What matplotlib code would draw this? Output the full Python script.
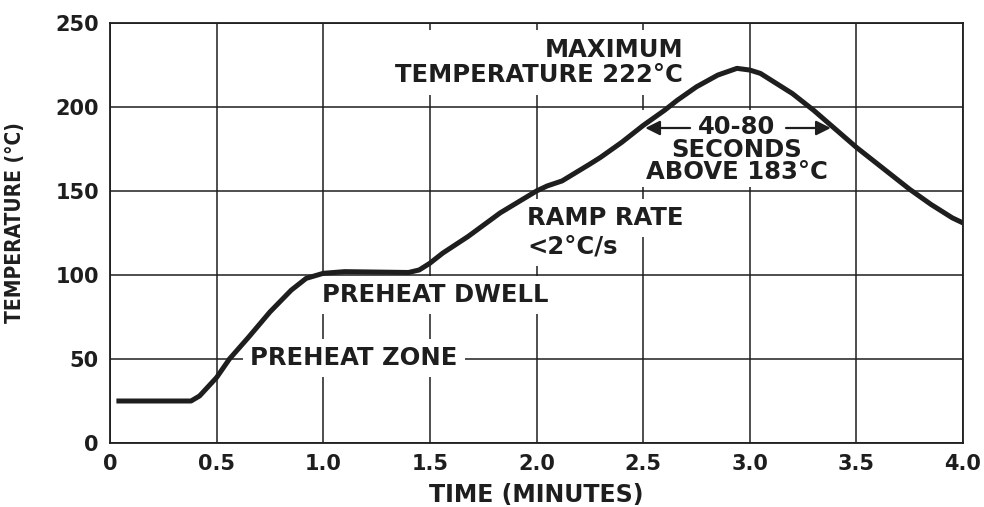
import matplotlib
matplotlib.use("Agg")
import matplotlib.pyplot as plt
from matplotlib.patches import Rectangle

# Reflow temperature profile (time in minutes, temperature in °C)
time_min = [0.03, 0.38, 0.42, 0.50, 0.56, 0.65, 0.75, 0.85, 0.92, 1.00,
            1.10, 1.40, 1.45, 1.50, 1.56, 1.68, 1.83, 2.00, 2.05, 2.12,
            2.25, 2.30, 2.40, 2.50, 2.60, 2.66, 2.75, 2.85, 2.94, 3.00,
            3.05, 3.10, 3.20, 3.30, 3.40, 3.50, 3.60, 3.75, 3.85, 3.95, 4.00]
temp_c = [25, 25, 28, 39, 50, 63, 78, 91, 98, 101,
          102, 101.5, 103, 107, 113, 123, 137, 150, 153, 156,
          166, 170, 179, 189, 198, 204, 212, 219, 223, 222,
          220, 216, 208, 198, 187, 176, 166, 151, 142, 134, 131]

x_ticks = [0, 0.5, 1.0, 1.5, 2.0, 2.5, 3.0, 3.5, 4.0]
x_tick_labels = ["0", "0.5", "1.0", "1.5", "2.0", "2.5", "3.0", "3.5", "4.0"]
y_ticks = [0, 50, 100, 150, 200, 250]

ink = "#1e1e1e"
fig = plt.figure(figsize=(9.84, 5.07), dpi=100)
ax = fig.add_axes([110/984, 1-443/507, 853/984, 420/507])
ax.set_xlim(0, 4.0)
ax.set_ylim(0, 250)
ax.set_xticks(x_ticks)
ax.set_xticklabels(x_tick_labels)
ax.set_yticks(y_ticks)
ax.set_axisbelow(True)
ax.grid(True, color=ink, linewidth=1.1)
for s in ax.spines.values():
    s.set_color(ink)
    s.set_linewidth(1.3)
ax.tick_params(length=0, pad=8, labelsize=15, labelcolor=ink)
for lab in ax.get_xticklabels() + ax.get_yticklabels():
    lab.set_fontweight("bold")

ax.plot(time_min, temp_c, color=ink, linewidth=3.6, zorder=6,
        solid_capstyle="butt", solid_joinstyle="round")

ax.set_xlabel("TIME (MINUTES)", fontsize=17, fontweight="bold", color=ink)
ax.xaxis.set_label_coords(0.5, -0.095)
ax.set_ylabel("TEMPERATURE (°C)", fontsize=15, fontweight="bold", color=ink,
              family=["DejaVu Sans"], fontstretch="condensed")
ax.yaxis.set_label_coords(-0.1, 0.526)

box = dict(boxstyle="square,pad=0.3", fc="white", ec="none")
tkw = dict(fontsize=17.5, fontweight="bold", color=ink, zorder=4)

ax.text(2.687, 226.5, "MAXIMUM\nTEMPERATURE 222°C", ha="right", va="center",
        multialignment="right", linespacing=1.1, bbox=box, **tkw)

# white backing behind the "40-80 seconds" note (hides the grid there)
ax.add_patch(Rectangle((2.485, 152.5), 0.9, 45.5, facecolor="white",
                       edgecolor="none", zorder=3))
ax.text(2.94, 174.5, "40-80\nSECONDS\nABOVE 183°C", ha="center", va="center",
        multialignment="center", linespacing=0.92, **tkw)

ax.text(1.955, 134, "RAMP RATE", ha="left", va="center", bbox=box, **tkw)
ax.text(1.955, 117, "<2°C/s", ha="left", va="center", bbox=box, **tkw)
ax.text(0.994, 88, "PREHEAT DWELL", ha="left", va="center", bbox=box, **tkw)
ax.text(0.657, 50.5, "PREHEAT ZONE", ha="left", va="center", bbox=box, **tkw)

arrow = dict(arrowstyle="-|>", color=ink, lw=1.6, mutation_scale=22, shrinkA=0, shrinkB=0)
ax.annotate("", xy=(2.51, 187.5), xytext=(2.72, 187.5), arrowprops=arrow, zorder=7)
ax.annotate("", xy=(3.38, 187.5), xytext=(3.17, 187.5), arrowprops=arrow, zorder=7)

fig.savefig("out.png", dpi=100, facecolor="white")
